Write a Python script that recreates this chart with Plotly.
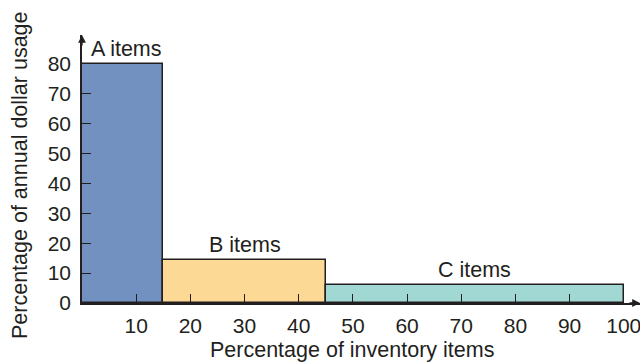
import plotly.graph_objects as go

# Data
categories = ["A items", "B items", "C items"]
edges = [0, 15, 45, 100]          # cumulative % of inventory items
usage = [80, 14.5, 6]             # % of annual dollar usage
colors = ["#7291c0", "#fdd996", "#a2d8d3"]
x_ticks = [10, 20, 30, 40, 50, 60, 70, 80, 90, 100]
y_ticks = [0, 10, 20, 30, 40, 50, 60, 70, 80]

centers = [(edges[i] + edges[i + 1]) / 2 for i in range(len(categories))]
widths = [edges[i + 1] - edges[i] for i in range(len(categories))]

INK = "#231f20"
FONT = "Liberation Sans, Arial, sans-serif"

fig = go.Figure()
fig.add_trace(go.Bar(
    x=centers, y=usage, width=widths,
    marker=dict(color=colors, line=dict(color=INK, width=1.5)),
    hoverinfo="skip", showlegend=False,
))

XMAX = 103.0
YMAX = 89.6

label_shift = [4, 0, 0]
for c, cx, h, s in zip(categories, centers, usage, label_shift):
    fig.add_annotation(x=cx, y=h, text=c, showarrow=False, xanchor="center",
                       yanchor="bottom", xshift=s, yshift=1,
                       font=dict(family=FONT, size=21.5, color=INK))

# axis arrowheads
fig.add_annotation(x=0, y=YMAX, ax=0, ay=12, xref="x", yref="y", axref="pixel", ayref="pixel",
                   showarrow=True, arrowhead=2, arrowsize=1.2, arrowwidth=1.3, arrowcolor=INK, text="")
fig.add_annotation(x=XMAX, y=0, ax=-12, ay=0, xref="x", yref="y", axref="pixel", ayref="pixel",
                   showarrow=True, arrowhead=2, arrowsize=1.2, arrowwidth=1.3, arrowcolor=INK, text="")

# axis titles
fig.add_annotation(x=(352 - 82) / 558, y=0, xref="paper", yref="paper", yshift=-61,
                   xanchor="center", yanchor="bottom", showarrow=False,
                   text="Percentage of inventory items",
                   font=dict(family=FONT, size=21.5, color=INK))
fig.add_annotation(x=0, y=(303 - 175) / 268, xref="paper", yref="paper", xshift=-82 + 20,
                   xanchor="center", yanchor="middle", showarrow=False, textangle=-90,
                   text="Percentage of annual dollar usage",
                   font=dict(family=FONT, size=21.5, color=INK))

fig.update_layout(
    width=640, height=364,
    margin=dict(l=82, r=0, t=35, b=61),
    paper_bgcolor="white", plot_bgcolor="white",
    bargap=0,
    font=dict(family=FONT, size=21, color=INK),
    xaxis=dict(range=[0, XMAX], tickvals=x_ticks, ticks="inside", ticklen=9, tickwidth=1.3,
               tickcolor=INK, showline=True, linecolor=INK, linewidth=1.5, showgrid=False,
               zeroline=False, tickfont=dict(size=21, color=INK), fixedrange=True,
               ticklabelstandoff=3, ticklabeloverflow="allow"),
    yaxis=dict(range=[0, YMAX], tickvals=y_ticks, ticks="inside", ticklen=9, tickwidth=1.3,
               tickcolor=INK, showline=True, linecolor=INK, linewidth=1.5, showgrid=False,
               zeroline=False, tickfont=dict(size=21, color=INK), fixedrange=True,
               ticklabelstandoff=5, ticklabeloverflow="allow"),
)

fig.write_html(
    "out.html",
    config={"displayModeBar": False},
    post_script="document.body.style.margin='0';document.body.style.overflow='hidden';",
)
